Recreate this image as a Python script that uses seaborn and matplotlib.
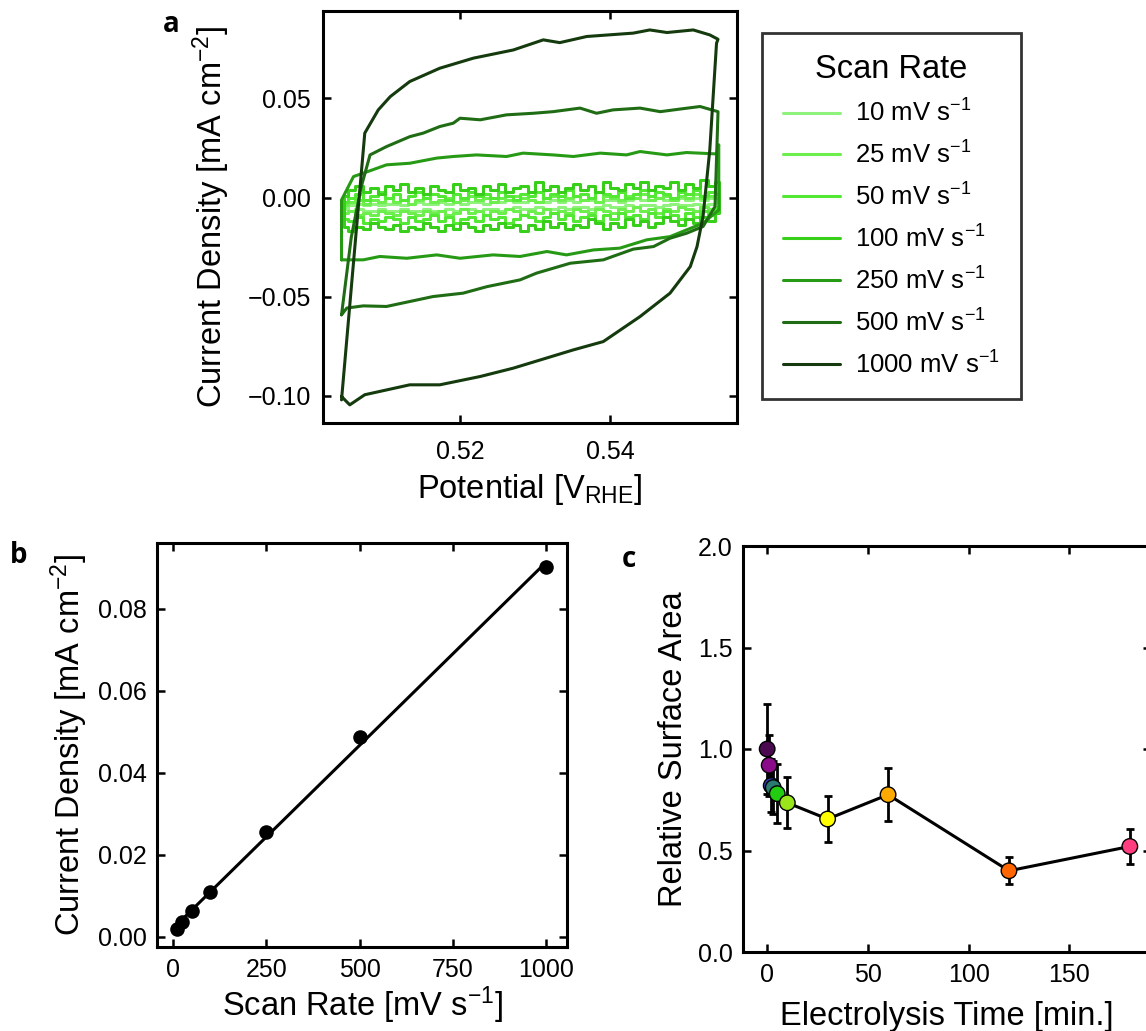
import numpy as np
import pandas as pd
import matplotlib
matplotlib.use("Agg")
import matplotlib.pyplot as plt
import seaborn as sns

# ---------------- data ----------------
# Panel a: cyclic voltammograms (potential in V_RHE, current density in mA cm^-2)
POT_1000 = [0.5042, 0.5073, 0.5091, 0.5107, 0.5133, 0.5173, 0.5218, 0.5271, 0.5311, 0.5333,
            0.5369, 0.5431, 0.5453, 0.5476, 0.5511, 0.5533, 0.5544, 0.5542, 0.5533, 0.5524,
            0.5516, 0.5507, 0.5480, 0.5440, 0.5391, 0.5351, 0.5271, 0.5227, 0.5173, 0.5133,
            0.5073, 0.5053, 0.5042]
CUR_1000 = [-0.1020, 0.0325, 0.0442, 0.0509, 0.0585, 0.0652, 0.0703, 0.0744, 0.0795, 0.0781,
            0.0812, 0.0829, 0.0845, 0.0832, 0.0845, 0.0820, 0.0798, 0.0778, 0.0240, -0.0096,
            -0.0247, -0.0348, -0.0482, -0.0600, -0.0726, -0.0768, -0.0860, -0.0902, -0.0944, -0.0944,
            -0.0994, -0.1045, -0.1003]

POT_500 = [0.5042, 0.5055, 0.5068, 0.5080, 0.5102, 0.5133, 0.5151, 0.5173, 0.5191, 0.5200,
           0.5227, 0.5262, 0.5298, 0.5324, 0.5360, 0.5382, 0.5404, 0.5440, 0.5467, 0.5493,
           0.5520, 0.5544, 0.5540, 0.5524, 0.5502, 0.5480, 0.5458, 0.5431, 0.5391, 0.5347,
           0.5302, 0.5280, 0.5236, 0.5204, 0.5164, 0.5133, 0.5102, 0.5071, 0.5049, 0.5042]
CUR_500 = [-0.0591, -0.0200, 0.0050, 0.0215, 0.0257, 0.0307, 0.0325, 0.0358, 0.0375, 0.0400,
           0.0392, 0.0417, 0.0425, 0.0433, 0.0451, 0.0425, 0.0442, 0.0451, 0.0433, 0.0446,
           0.0459, 0.0433, -0.0045, -0.0146, -0.0180, -0.0205, -0.0247, -0.0260, -0.0314, -0.0331,
           -0.0381, -0.0415, -0.0449, -0.0482, -0.0499, -0.0524, -0.0549, -0.0546, -0.0557, -0.0591]

POT_250 = [0.5042, 0.5042, 0.5058, 0.5071, 0.5102, 0.5133, 0.5169, 0.5191, 0.5222, 0.5262,
           0.5284, 0.5324, 0.5351, 0.5387, 0.5422, 0.5440, 0.5476, 0.5502, 0.5542, 0.5545,
           0.5545, 0.5524, 0.5502, 0.5480, 0.5449, 0.5413, 0.5378, 0.5342, 0.5316, 0.5280,
           0.5244, 0.5200, 0.5169, 0.5129, 0.5093, 0.5071, 0.5042]
CUR_250 = [-0.0314, -0.0012, 0.0106, 0.0123, 0.0165, 0.0173, 0.0199, 0.0207, 0.0215, 0.0207,
           0.0224, 0.0215, 0.0207, 0.0224, 0.0215, 0.0232, 0.0215, 0.0227, 0.0220, 0.0266,
           -0.0062, -0.0129, -0.0163, -0.0197, -0.0213, -0.0255, -0.0264, -0.0289, -0.0272, -0.0297,
           -0.0289, -0.0306, -0.0289, -0.0306, -0.0297, -0.0314, -0.0314]

# low scan rates: forward branch on POT_GRID, reverse branch on the reversed grid
POT_GRID = [0.5045, 0.5055, 0.5065, 0.5075, 0.5085, 0.5095, 0.5105, 0.5115, 0.5125, 0.5135,
            0.5145, 0.5155, 0.5165, 0.5175, 0.5185, 0.5195, 0.5205, 0.5215, 0.5225, 0.5235,
            0.5245, 0.5255, 0.5265, 0.5275, 0.5285, 0.5295, 0.5305, 0.5315, 0.5325, 0.5335,
            0.5345, 0.5355, 0.5365, 0.5375, 0.5385, 0.5395, 0.5405, 0.5415, 0.5425, 0.5435,
            0.5445, 0.5455, 0.5465, 0.5475, 0.5485, 0.5495, 0.5505, 0.5515, 0.5525, 0.5535, 0.5545]
UP_100 = [0.001, 0.004, 0.006, 0.003, 0.005, 0.002, 0.006, 0.004, 0.007, 0.003,
          0.005, 0.002, 0.006, 0.004, 0.003, 0.007, 0.004, 0.005, 0.002, 0.006,
          0.004, 0.007, 0.003, 0.005, 0.006, 0.003, 0.008, 0.004, 0.006, 0.003,
          0.005, 0.007, 0.004, 0.006, 0.003, 0.008, 0.005, 0.004, 0.007, 0.005,
          0.008, 0.004, 0.006, 0.005, 0.008, 0.004, 0.007, 0.005, 0.009, 0.006, 0.008]
LO_100 = [-0.008, -0.012, -0.010, -0.013, -0.011, -0.014, -0.012, -0.010, -0.013, -0.015,
          -0.012, -0.014, -0.011, -0.015, -0.013, -0.016, -0.013, -0.011, -0.015, -0.014,
          -0.016, -0.013, -0.015, -0.012, -0.016, -0.014, -0.017, -0.014, -0.015, -0.013,
          -0.016, -0.014, -0.017, -0.015, -0.013, -0.016, -0.014, -0.017, -0.015, -0.013,
          -0.016, -0.015, -0.017, -0.014, -0.016, -0.015, -0.013, -0.016, -0.015, -0.017, -0.015]
UP_50 = [-0.002, 0.000, 0.002, -0.001, 0.001, 0.003, 0.000, 0.002, -0.001, 0.001,
         0.003, 0.000, 0.002, 0.001, -0.001, 0.002, 0.000, 0.003, 0.001, 0.002,
         0.000, 0.003, 0.001, -0.001, 0.002, 0.001, 0.003, 0.000, 0.002, 0.001,
         0.004, 0.001, 0.002, 0.000, 0.003, 0.002, 0.001, 0.003, 0.000, 0.002,
         0.004, 0.001, 0.003, 0.002, 0.000, 0.003, 0.002, 0.004, 0.001, 0.003, 0.002]
LO_50 = [-0.006, -0.009, -0.007, -0.010, -0.008, -0.011, -0.009, -0.007, -0.010, -0.008,
         -0.011, -0.009, -0.010, -0.008, -0.011, -0.009, -0.012, -0.009, -0.010, -0.012,
         -0.009, -0.011, -0.008, -0.010, -0.012, -0.010, -0.009, -0.011, -0.013, -0.010,
         -0.011, -0.009, -0.012, -0.010, -0.011, -0.013, -0.010, -0.012, -0.009, -0.011,
         -0.012, -0.010, -0.013, -0.011, -0.010, -0.012, -0.011, -0.013, -0.010, -0.012, -0.011]
UP_25 = [-0.004, -0.002, -0.001, -0.003, -0.001, -0.002, 0.000, -0.002, -0.001, -0.003,
         -0.001, 0.000, -0.002, -0.001, 0.000, -0.002, -0.001, 0.001, -0.001, 0.000,
         -0.002, 0.000, -0.001, 0.001, 0.000, -0.001, -0.002, 0.000, 0.001, -0.001,
         0.000, 0.001, -0.001, 0.000, -0.002, 0.001, 0.000, -0.001, 0.001, 0.000,
         0.002, -0.001, 0.000, 0.001, -0.001, 0.001, 0.000, 0.002, 0.000, 0.001, 0.000]
LO_25 = [-0.005, -0.006, -0.005, -0.007, -0.006, -0.005, -0.007, -0.006, -0.008, -0.006,
         -0.007, -0.005, -0.007, -0.006, -0.008, -0.007, -0.006, -0.008, -0.007, -0.006,
         -0.008, -0.007, -0.008, -0.006, -0.008, -0.007, -0.009, -0.007, -0.006, -0.008,
         -0.007, -0.009, -0.007, -0.008, -0.006, -0.008, -0.009, -0.007, -0.008, -0.007,
         -0.009, -0.008, -0.007, -0.009, -0.008, -0.007, -0.009, -0.008, -0.009, -0.007, -0.008]
UP_10 = [-0.005, -0.004, -0.003, -0.004, -0.003, -0.004, -0.003, -0.003, -0.004, -0.003,
         -0.002, -0.003, -0.003, -0.002, -0.003, -0.002, -0.003, -0.002, -0.002, -0.003,
         -0.002, -0.002, -0.001, -0.002, -0.002, -0.001, -0.002, -0.002, -0.001, -0.002,
         -0.001, -0.002, -0.001, -0.001, -0.002, -0.001, -0.001, -0.002, -0.001, 0.000,
         -0.001, -0.001, 0.000, -0.001, -0.001, 0.000, -0.001, 0.000, -0.001, 0.000, -0.001]
LO_10 = [-0.002, -0.003, -0.004, -0.003, -0.004, -0.004, -0.003, -0.004, -0.005, -0.004,
         -0.004, -0.005, -0.004, -0.005, -0.005, -0.004, -0.005, -0.006, -0.005, -0.005,
         -0.006, -0.005, -0.006, -0.006, -0.005, -0.006, -0.006, -0.005, -0.006, -0.007,
         -0.006, -0.006, -0.007, -0.006, -0.006, -0.007, -0.006, -0.007, -0.007, -0.006,
         -0.007, -0.007, -0.006, -0.007, -0.007, -0.006, -0.007, -0.007, -0.006, -0.007, -0.006]

SCAN_RATES = [10, 25, 50, 100, 250, 500, 1000]
LEGEND_LABELS = [f"{r} mV s$^{{-1}}$" for r in SCAN_RATES]
GREENS = ["#8ef27c", "#6cef4c", "#52e833", "#38cf1b", "#279a15", "#1f6c14", "#143a0e"]

# Panel b: capacitive current vs scan rate
RATE_B = [10, 25, 50, 100, 250, 500, 1000]
CD_B = [0.0018, 0.0035, 0.0062, 0.0110, 0.0256, 0.0488, 0.0901]

# Panel c: relative surface area vs electrolysis time
TIME_C = [0, 1, 2, 3, 5, 10, 30, 60, 120, 180]
RSA_C = [1.00, 0.92, 0.82, 0.81, 0.78, 0.735, 0.655, 0.775, 0.40, 0.52]
ERR_C = [0.22, 0.15, 0.13, 0.13, 0.145, 0.125, 0.115, 0.13, 0.066, 0.088]
COLORS_C = ["#4b0a4f", "#8a0a8a", "#3040c0", "#2a7a70", "#22cc11", "#9be61a",
            "#ffff00", "#ffaa00", "#ff6600", "#ff3d7f"]

# ---------------- style ----------------
sns.set_theme(style="ticks")
plt.rcParams.update({
    "font.family": ["Liberation Sans", "DejaVu Sans"],
    "mathtext.fontset": "custom",
    "mathtext.rm": "Liberation Sans",
    "mathtext.it": "Liberation Sans:italic",
    "mathtext.bf": "Liberation Sans:bold",
    "axes.linewidth": 2.2,
    "axes.edgecolor": "black",
    "xtick.direction": "in",
    "ytick.direction": "in",
    "xtick.top": True,
    "ytick.right": True,
    "xtick.major.size": 5.8,
    "ytick.major.size": 5.8,
    "xtick.major.width": 1.8,
    "ytick.major.width": 1.8,
    "xtick.major.pad": 8,
    "ytick.major.pad": 7.5,
    "xtick.labelsize": 18,
    "ytick.labelsize": 18,
    "axes.labelsize": 23.5,
    "xtick.color": "black",
    "ytick.color": "black",
    "text.color": "black",
    "axes.labelcolor": "black",
})

fig = plt.figure(figsize=(11.46, 10.31), dpi=100)
W, H = 1146, 1031


def add_ax(x0, y0, x1, y1):
    return fig.add_axes([x0 / W, 1 - y1 / H, (x1 - x0) / W, (y1 - y0) / H])


# ---------------- panel a ----------------
axa = add_ax(322.7, 10.7, 736.7, 423.3)
small = {10: (UP_10, LO_10), 25: (UP_25, LO_25), 50: (UP_50, LO_50), 100: (UP_100, LO_100)}
big = {250: (POT_250, CUR_250), 500: (POT_500, CUR_500), 1000: (POT_1000, CUR_1000)}
for rate, col, lab in zip(SCAN_RATES, GREENS, LEGEND_LABELS):
    if rate in small:
        up, lo = small[rate]
        pot = POT_GRID + POT_GRID[::-1] + [POT_GRID[0]]
        cur = up + lo + [up[0]]
        ds = "steps-mid"
    else:
        pot, cur = big[rate]
        ds = "default"
    df = pd.DataFrame({"potential": pot, "current": cur})
    sns.lineplot(data=df, x="potential", y="current", sort=False, estimator=None,
                 color=col, lw=2.2, label=lab, drawstyle=ds, ax=axa)
axa.set_xlim(0.50169, 0.55689)
axa.set_ylim(-0.1138, 0.0942)
axa.set_xticks([0.52, 0.54])
axa.set_yticks([-0.10, -0.05, 0.00, 0.05])
axa.tick_params(axis="x", pad=12)
axa.tick_params(axis="y", pad=8.5)
axa.set_xlabel("Potential [V$_{\\mathrm{RHE}}$]")
axa.set_ylabel("Current Density [mA cm$^{-2}$]")
axa.yaxis.set_label_coords(-0.220, 0.5)
axa.xaxis.set_label_coords(0.5, -0.118)
leg = axa.legend(title="Scan Rate", loc="upper left", bbox_to_anchor=(1.061, 0.946),
                 frameon=True, fancybox=False, framealpha=1, edgecolor="#333333",
                 fontsize=18.5, title_fontsize=23.5, handlelength=2.24, handletextpad=0.6,
                 labelspacing=0.575, borderpad=0.8, borderaxespad=0)
leg.get_frame().set_linewidth(2.0)

# ---------------- panel b ----------------
axb = add_ax(157.3, 543.3, 566.7, 947.3)
sns.regplot(x=RATE_B, y=CD_B, ci=None, color="black", ax=axb,
            scatter_kws={"s": 110, "linewidths": 0, "alpha": 1},
            line_kws={"lw": 2.2})
axb.set_xlim(-42, 1054.5)
axb.set_ylim(-0.0026, 0.0960)
axb.set_xticks([0, 250, 500, 750, 1000])
axb.set_yticks([0.00, 0.02, 0.04, 0.06, 0.08])
axb.set_xlabel("Scan Rate [mV s$^{-1}$]")
axb.set_ylabel("Current Density [mA cm$^{-2}$]")
axb.yaxis.set_label_coords(-0.164, 0.5)
axb.xaxis.set_label_coords(0.5, -0.0933)

# ---------------- panel c ----------------
axc = add_ax(743, 546, 1151, 952)
sns.lineplot(x=TIME_C, y=RSA_C, color="black", lw=2.2, ax=axc, zorder=1)
axc.errorbar(TIME_C, RSA_C, yerr=ERR_C, fmt="none", ecolor="black",
             elinewidth=2.0, capsize=3, capthick=2.0, zorder=2)
labels_c = [str(t) for t in TIME_C]
sns.scatterplot(x=TIME_C, y=RSA_C, hue=labels_c, palette=COLORS_C, s=125,
                edgecolor="black", linewidth=1.0, legend=False, ax=axc, zorder=3)
axc.set_xlim(-12, 190.5)
axc.set_ylim(0, 2.0)
axc.set_xticks([0, 50, 100, 150])
axc.set_yticks([0.0, 0.5, 1.0, 1.5, 2.0])
axc.set_xlabel("Electrolysis Time [min.]")
axc.set_ylabel("Relative Surface Area")
axc.yaxis.set_label_coords(-0.132, 0.5)
axc.xaxis.set_label_coords(0.5, -0.12)

# ---------------- panel letters ----------------
for letter, x, y in [("a", 163, 32), ("b", 10, 563), ("c", 622, 567)]:
    fig.text(x / W, 1 - y / H, letter, fontsize=20, fontweight="bold",
             family=["Open Sans", "DejaVu Sans"], ha="left", va="baseline")

fig.savefig("out.png", dpi=100)
